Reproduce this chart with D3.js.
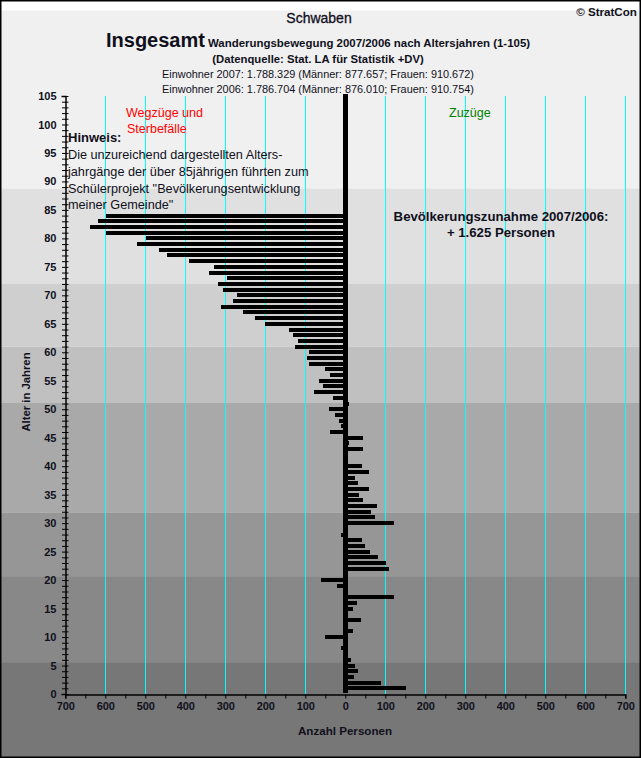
<!DOCTYPE html>
<html><head><meta charset="utf-8">
<script src="https://d3js.org/d3.v7.min.js"></script>
<style>html,body{margin:0;padding:0;background:#fff}svg{display:block}text{font-family:"Liberation Sans",Arial,sans-serif;fill:#10101c}</style>
</head><body><svg id="c" width="641" height="758"></svg>
<script>
const ages=[1,2,3,4,5,6,7,8,9,10,11,12,13,14,15,16,17,18,19,20,21,22,23,24,25,26,27,28,29,30,31,32,33,34,35,36,37,38,39,40,41,42,43,44,45,46,47,48,49,50,51,52,53,54,55,56,57,58,59,60,61,62,63,64,65,66,67,68,69,70,71,72,73,74,75,76,77,78,79,80,81,82,83,84];
const saldo=[152,88,22,32,25,15,0,-12,0,-52,18,0,40,0,20,28,122,0,-20,-60,0,108,102,82,62,50,42,-12,0,122,75,65,78,45,35,58,32,25,60,42,0,0,45,10,45,-38,-10,-15,-25,-40,10,-30,-78,-55,-65,-38,-50,-90,-95,-92,-125,-118,-132,-142,-200,-225,-255,-312,-282,-270,-305,-318,-295,-342,-328,-392,-445,-465,-522,-498,-598,-638,-618,-598];
const bandTops=[120,88.7,72,61,51.1,31.8,20.7,5.6];
const bandBottoms=[88.7,72,61,51.1,31.8,20.7,5.6,-20];
const bandColors=["#f0f0f0","#e0e0e0","#cfcfcf","#c0c0c0","#a9a9a9","#969696","#888888","#777777"];
const xTicks=[-700,-600,-500,-400,-300,-200,-100,0,100,200,300,400,500,600,700];
const xMinor=[-650,-550,-450,-350,-250,-150,-50,50,150,250,350,450,550,650];
const yTicks=d3.range(0,106);
const svg=d3.select("#c");
const x=d3.scaleLinear().domain([-700,700]).range([65.3,625.3]);
const y=d3.scaleLinear().domain([0,105]).range([694,96]);
const clip=svg.append("clipPath").attr("id","pg").append("rect").attr("width",641).attr("height",758);
svg.append("g").attr("clip-path","url(#pg)").selectAll("rect").data(bandColors).join("rect")
 .attr("x",0).attr("width",641).attr("y",(d,i)=>y(bandTops[i])).attr("height",(d,i)=>y(bandBottoms[i])-y(bandTops[i])).attr("fill",d=>d);
// cyan grid
svg.append("g").selectAll("line").data(xTicks.filter(d=>d!==-700&&d!==0)).join("line")
 .attr("x1",d=>Math.round(x(d))+.5).attr("x2",d=>Math.round(x(d))+.5).attr("y1",y(105)).attr("y2",y(0)).attr("stroke","#00ffff").attr("stroke-width",1).attr("shape-rendering","crispEdges");
// bars
svg.append("g").selectAll("rect").data(ages.map((a,i)=>({a,v:saldo[i]})).filter(d=>d.v!==0)).join("rect")
 .attr("x",d=>x(Math.min(0,d.v))).attr("width",d=>Math.abs(x(d.v)-x(0))).attr("y",d=>y(d.a)-2).attr("height",4).attr("fill","#000").attr("shape-rendering","crispEdges");
svg.append("rect").attr("x",x(0)-2.3).attr("width",5).attr("y",y(105)-2).attr("height",y(0)-y(105)+1).attr("fill","#000").attr("shape-rendering","crispEdges");
// axes
const ax=svg.append("g").attr("transform",`translate(0,${y(0)+.5})`).call(d3.axisBottom(x).tickValues(xTicks).tickSize(4).tickPadding(4).tickFormat(d=>Math.abs(d)));
ax.selectAll("text").attr("font-size",11).attr("font-weight",700).style("font-family",'"Liberation Sans",Arial,sans-serif');
const ax2=svg.append("g").attr("transform",`translate(0,${y(0)+.5})`).call(d3.axisBottom(x).tickValues(xMinor).tickSize(4).tickFormat(""));
ax2.select(".domain").remove();
const ay=svg.append("g").attr("transform",`translate(${x(-700)+.2},0)`).call(d3.axisLeft(y).tickValues(yTicks).tickSize(4).tickPadding(5).tickFormat(d=>d%5===0?d:""));
ay.selectAll(".tick line").attr("x2",-3.5).attr("x1",3);
ay.selectAll("text").attr("font-size",11).attr("font-weight",700).style("font-family",'"Liberation Sans",Arial,sans-serif');
svg.selectAll(".domain").attr("stroke","#000").attr("stroke-width",1.5);
// texts
const texts=[
["Schwaben",319,23,"middle",14,400],
["© StratCon",606.5,16,"middle",11.6,700],
["Insgesamt",106,47,"start",20,700],
["Wanderungsbewegung 2007/2006 nach Altersjahren (1-105)",208,47,"start",11.44,700],
["(Datenquelle: Stat. LA für Statistik +DV)",318,63,"middle",11.3,700],
["Einwohner 2007: 1.788.329 (Männer: 877.657; Frauen: 910.672)",318,78,"middle",10.9,400],
["Einwohner 2006: 1.786.704 (Männer: 876.010; Frauen: 910.754)",318,93,"middle",10.9,400],
["Hinweis:",68,142,"start",13,700],
["Die unzureichend dargestellten Alters-",68,159,"start",12.7,400],
["jahrgänge der über 85jährigen führten zum",68,176,"start",12.7,400],
["Schülerprojekt \"Bevölkerungsentwicklung",68,193,"start",12.7,400],
["meiner Gemeinde\"",68,209,"start",12.7,400],
["Bevölkerungszunahme 2007/2006:",501,221,"middle",13.2,700],
["+ 1.625 Personen",501,237,"middle",13.2,700],
["Anzahl Personen",345,735,"middle",11.6,700]];
svg.append("g").selectAll("text").data(texts).join("text").text(d=>d[0]).attr("x",d=>d[1]).attr("y",d=>d[2]).attr("text-anchor",d=>d[3]).attr("font-size",d=>d[4]).attr("font-weight",d=>d[5]).attr("stroke",d=>d[0]==="Schwaben"?"#10101c":null).attr("stroke-width",.3);
svg.append("text").text("Wegzüge und").attr("x",126).attr("y",117).attr("font-size",12.5).style("fill","#ff0000");
svg.append("text").text("Sterbefälle").attr("x",127).attr("y",133).attr("font-size",12.5).style("fill","#ff0000");
svg.append("text").text("Zuzüge").attr("x",449).attr("y",117).attr("font-size",12.5).style("fill","#008000");
svg.append("text").text("Alter in Jahren").attr("transform","translate(30,392) rotate(-90)").attr("text-anchor","middle").attr("font-size",11.3).attr("font-weight",700);
svg.append("rect").attr("x",.75).attr("y",.75).attr("width",639.5).attr("height",756.5).attr("fill","none").attr("stroke","#000").attr("stroke-width",1.5);
</script></body></html>
